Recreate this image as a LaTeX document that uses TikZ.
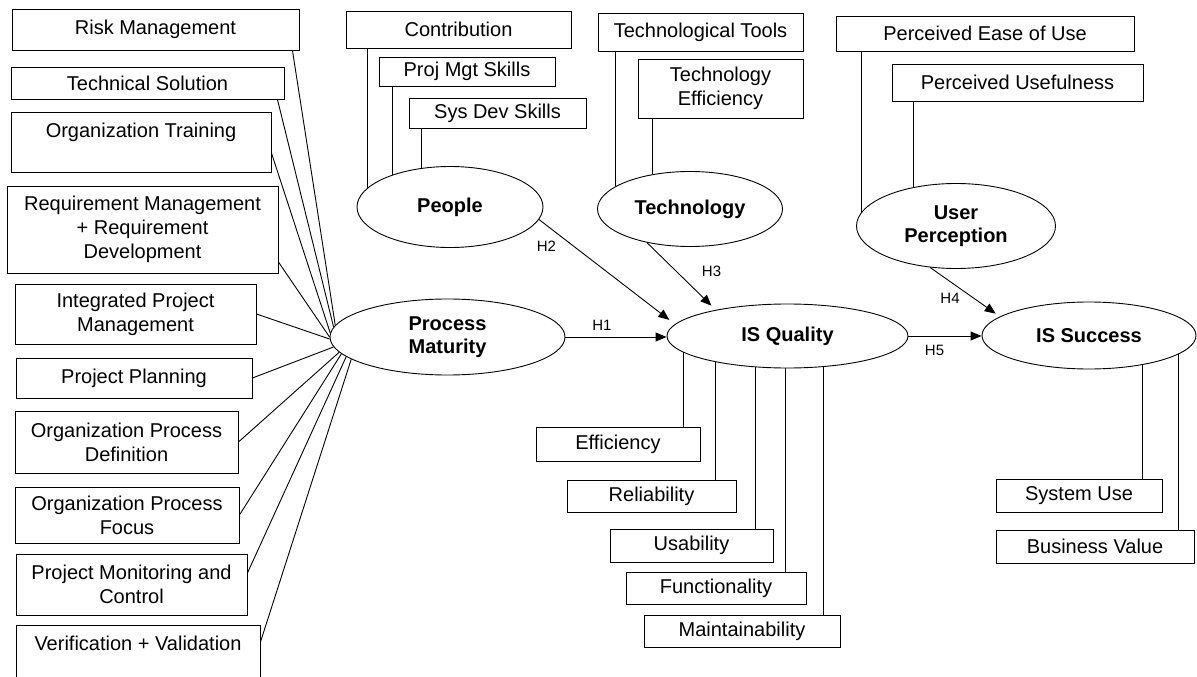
\documentclass[tikz,border=0pt]{standalone}
\usepackage{fontspec}
\setmainfont{Liberation Sans}
\usetikzlibrary{shapes.geometric,arrows.meta}
\begin{document}
\begin{tikzpicture}[x=1pt,y=-1pt,
  box/.style={draw, fill=white, rectangle, inner sep=0pt, align=center, line width=0.9pt,
    font=\fontsize{20}{24}\selectfont},
  lat/.style={draw, fill=white, ellipse, inner sep=0pt, align=center, line width=0.9pt,
    font=\fontsize{20}{23}\selectfont\bfseries},
  hlab/.style={inner sep=0pt, font=\fontsize{15}{18}\selectfont},
  link/.style={line width=0.9pt},
  arr/.style={line width=0.9pt, -{Triangle[length=11pt,width=9pt]}}]
\useasboundingbox (0,0) rectangle (1197,677);
\clip (0,0) rectangle (1197,677);
\fill[white] (0,0) rectangle (1197,677);

% left indicator boxes
\node[box, minimum width=287pt, minimum height=41pt] (risk) at (155.5,29.5) {Risk Management};
\node[box, minimum width=273pt, minimum height=32pt] (ts) at (147.5,83) {Technical Solution};
\node[box, minimum width=260pt, minimum height=60pt] (ot) at (141,142) {Organization Training\\\mbox{}};
\node[box, minimum width=271pt, minimum height=87pt] (rm) at (142.5,229.5) {Requirement Management\\+ Requirement\\Development};
\node[box, minimum width=241pt, minimum height=60pt] (ipm) at (135.5,314) {Integrated Project\\Management};
\node[box, minimum width=236pt, minimum height=40pt] (pp) at (134,378) {Project Planning};
\node[box, minimum width=223pt, minimum height=62pt] (opd) at (126.5,442) {Organization Process\\Definition};
\node[box, minimum width=224pt, minimum height=56pt] (opf) at (127,515) {Organization Process\\Focus};
\node[box, minimum width=231pt, minimum height=61pt] (pmc) at (131.5,584.5) {Project Monitoring and\\Control};
\node[box, minimum width=244pt, minimum height=60pt] (vv) at (138,655) {Verification + Validation\\\mbox{}};

% top boxes
\node[box, minimum width=225pt, minimum height=37pt] (contrib) at (458.5,29.5) {Contribution};
\node[box, minimum width=176pt, minimum height=29pt] (pms) at (467,71.5) {Proj Mgt Skills};
\node[box, minimum width=177pt, minimum height=30pt] (sds) at (497.5,113) {Sys Dev Skills};
\node[box, minimum width=205pt, minimum height=38pt] (tt) at (700.5,32) {Technological Tools};
\node[box, minimum width=165pt, minimum height=59pt] (te) at (720.5,88.5) {Technology\\Efficiency};
\node[box, minimum width=298pt, minimum height=35pt] (peou) at (985,33.5) {Perceived Ease of Use};
\node[box, minimum width=251pt, minimum height=37pt] (pu) at (1017.5,82.5) {Perceived Usefulness};

% bottom boxes
\node[box, minimum width=164pt, minimum height=34pt] (eff) at (618,444) {Efficiency};
\node[box, minimum width=169pt, minimum height=32pt] (rel) at (651.5,496) {Reliability};
\node[box, minimum width=163pt, minimum height=33pt] (usa) at (691.5,545.5) {Usability};
\node[box, minimum width=180pt, minimum height=32pt] (fun) at (716,588) {Functionality};
\node[box, minimum width=196pt, minimum height=32pt] (mai) at (742,631) {Maintainability};
\node[box, minimum width=166pt, minimum height=33pt] (su) at (1079,495.5) {System Use};
\node[box, minimum width=198pt, minimum height=33pt] (bv) at (1095,546.5) {Business Value};

% latent constructs
\node[lat, minimum width=186pt, minimum height=81pt] (people) at (450,207) {People};
\node[lat, minimum width=185pt, minimum height=75pt] (tech) at (690,209) {Technology};
\node[lat, minimum width=199pt, minimum height=85pt] (up) at (956,226) {User\\Perception};
\node[lat, minimum width=235pt, minimum height=76pt] (pm) at (447.5,337) {Process\\Maturity};
\node[lat, minimum width=241pt, minimum height=64pt] (isq) at (787.5,336) {IS Quality};
\node[lat, minimum width=214pt, minimum height=67pt] (iss) at (1089,335.5) {IS Success};

% left links
\draw[link] ([xshift=-7pt]risk.south east) -- (pm.174);
\draw[link] ([xshift=-7pt]ts.south east) -- (pm.175);
\draw[link] ([yshift=-11pt]ot.east) -- (pm.178);
\draw[link] ([yshift=-32.5pt]rm.east) -- (pm.west);
\draw[link] (ipm.east) -- (pm.181);
\draw[link] (pp.east) -- (pm.185);
\draw[link] (opd.east) -- (pm.188);
\draw[link] (opf.east) -- (pm.189);
\draw[link] ([yshift=11.5pt]pmc.east) -- (pm.191);
\draw[link] ([yshift=13pt]vv.east) -- (pm.193);

% top links
\draw[link] (people.167 |- contrib.south) -- (people.167);
\draw[link] (people.151 |- pms.south) -- (people.151);
\draw[link] (people.126 |- sds.south) -- (people.126);
\draw[link] (tech.163 |- tt.south) -- (tech.163);
\draw[link] (tech.137 |- te.south) -- (tech.137);
\draw[link] (up.172 |- peou.south) -- (up.172);
\draw[link] (up.138 |- pu.south) -- (up.138);

% bottom links
\draw[link] (isq.189) -- (isq.189 |- eff.north);
\draw[link] (isq.200) -- (isq.200 |- rel.north);
\draw[link] (isq.224) -- (isq.224 |- usa.north);
\draw[link] (isq.267) -- (isq.267 |- fun.north);
\draw[link] (isq.319) -- (isq.319 |- mai.north);
\draw[link] (iss.331) -- (iss.331 |- su.north);
\draw[link] (iss.348) -- (iss.348 |- bv.north);

% hypotheses
\draw[arr] (pm.east) -- (pm.east -| isq.west);
\draw[arr, shorten >=7pt] (people.352) -- (isq.174);
\draw[arr, shorten >=6pt] (tech.218) -- (isq.160);
\draw[arr, shorten >=5pt] (up.238) -- (iss.168);
\draw[arr] (isq.east) -- (isq.east -| iss.west);

\node[hlab] (h1) at (602,325) {H1};
\node[hlab] (h2) at (546.5,246.5) {H2};
\node[hlab] (h3) at (711.5,271.5) {H3};
\node[hlab] (h4) at (950,298.5) {H4};
\node[hlab] (h5) at (934.5,350) {H5};
\end{tikzpicture}
\end{document}
